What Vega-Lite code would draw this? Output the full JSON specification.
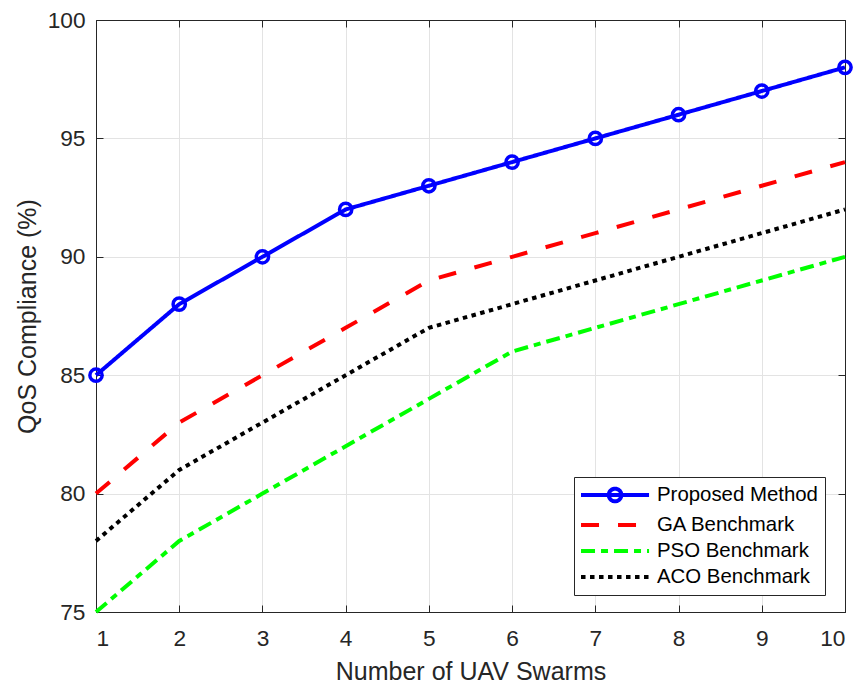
{
  "$schema": "https://vega.github.io/schema/vega-lite/v6.json",
  "width": 749,
  "height": 592,
  "autosize": {"type": "none"},
  "padding": {"left": 96, "top": 20, "right": 14, "bottom": 70},
  "background": "white",
  "config": {
    "font": "Liberation Sans",
    "view": {"stroke": "#262626", "strokeWidth": 1},
    "axis": {
      "labelFont": "Liberation Sans",
      "titleFont": "Liberation Sans",
      "labelColor": "#262626",
      "titleColor": "#262626",
      "titleFontWeight": "normal",
      "domainColor": "#262626",
      "tickColor": "#262626",
      "gridColor": "#e3e3e3",
      "gridOpacity": 1
    }
  },
  "resolve": {"axis": {"x": "independent", "y": "independent"}},
  "data": {
    "values": [
      {"x": 1, "y": 85, "m": "Proposed Method"},
      {"x": 2, "y": 88, "m": "Proposed Method"},
      {"x": 3, "y": 90, "m": "Proposed Method"},
      {"x": 4, "y": 92, "m": "Proposed Method"},
      {"x": 5, "y": 93, "m": "Proposed Method"},
      {"x": 6, "y": 94, "m": "Proposed Method"},
      {"x": 7, "y": 95, "m": "Proposed Method"},
      {"x": 8, "y": 96, "m": "Proposed Method"},
      {"x": 9, "y": 97, "m": "Proposed Method"},
      {"x": 10, "y": 98, "m": "Proposed Method"},
      {"x": 1, "y": 80, "m": "GA Benchmark"},
      {"x": 2, "y": 83, "m": "GA Benchmark"},
      {"x": 3, "y": 85, "m": "GA Benchmark"},
      {"x": 4, "y": 87, "m": "GA Benchmark"},
      {"x": 5, "y": 89, "m": "GA Benchmark"},
      {"x": 6, "y": 90, "m": "GA Benchmark"},
      {"x": 7, "y": 91, "m": "GA Benchmark"},
      {"x": 8, "y": 92, "m": "GA Benchmark"},
      {"x": 9, "y": 93, "m": "GA Benchmark"},
      {"x": 10, "y": 94, "m": "GA Benchmark"},
      {"x": 1, "y": 75, "m": "PSO Benchmark"},
      {"x": 2, "y": 78, "m": "PSO Benchmark"},
      {"x": 3, "y": 80, "m": "PSO Benchmark"},
      {"x": 4, "y": 82, "m": "PSO Benchmark"},
      {"x": 5, "y": 84, "m": "PSO Benchmark"},
      {"x": 6, "y": 86, "m": "PSO Benchmark"},
      {"x": 7, "y": 87, "m": "PSO Benchmark"},
      {"x": 8, "y": 88, "m": "PSO Benchmark"},
      {"x": 9, "y": 89, "m": "PSO Benchmark"},
      {"x": 10, "y": 90, "m": "PSO Benchmark"},
      {"x": 1, "y": 78, "m": "ACO Benchmark"},
      {"x": 2, "y": 81, "m": "ACO Benchmark"},
      {"x": 3, "y": 83, "m": "ACO Benchmark"},
      {"x": 4, "y": 85, "m": "ACO Benchmark"},
      {"x": 5, "y": 87, "m": "ACO Benchmark"},
      {"x": 6, "y": 88, "m": "ACO Benchmark"},
      {"x": 7, "y": 89, "m": "ACO Benchmark"},
      {"x": 8, "y": 90, "m": "ACO Benchmark"},
      {"x": 9, "y": 91, "m": "ACO Benchmark"},
      {"x": 10, "y": 92, "m": "ACO Benchmark"}
    ]
  },
  "layer": [
    {
      "mark": {"type": "line", "strokeWidth": 4, "clip": false},
      "encoding": {
        "x": {
          "field": "x", "type": "quantitative",
          "scale": {"domain": [1, 10], "nice": false, "zero": false},
          "axis": {"title": "Number of UAV Swarms", "values": [1,2,3,4,5,6,7,8,9,10], "format": "d", "tickSize": -7, "labelPadding": 22, "titlePadding": 10, "labelFontSize": 22.7, "titleFontSize": 25}
        },
        "y": {
          "field": "y", "type": "quantitative",
          "scale": {"domain": [75, 100], "nice": false, "zero": false},
          "axis": {"title": "QoS Compliance (%)", "values": [75,80,85,90,95,100], "tickSize": -7, "labelPadding": 18, "titlePadding": 7, "labelFontSize": 22.7, "titleFontSize": 25}
        },
        "color": {
          "field": "m", "type": "nominal",
          "scale": {
            "domain": ["Proposed Method", "GA Benchmark", "PSO Benchmark", "ACO Benchmark"],
            "range": ["#0000ff", "#ff0000", "#00ff00", "#000000"]
          },
          "legend": {
            "title": null,
            "orient": "none",
            "legendX": 478,
            "legendY": 457,
            "symbolType": "stroke",
            "symbolSize": 324,
            "symbolStrokeWidth": 4,
            "labelFontSize": 20.4,
            "labelFont": "Liberation Sans",
            "labelColor": "#000000",
            "labelOffset": 54,
            "fillColor": "white",
            "strokeColor": "#262626",
            "padding": 7,
            "rowPadding": 4,
            "labelLimit": 300,
            "encode": {
              "symbols": {
                "update": {
                  "shape": {"signal": "datum.value === 'Proposed Method' ? 'M-1.22,0H6.34M1.86,0A0.7,0.7,0,1,1,3.26,0A0.7,0.7,0,1,1,1.86,0' : 'M-1.22,0H6.34'"}
                }
              }
            }
          }
        },
        "strokeDash": {
          "field": "m", "type": "nominal",
          "scale": {
            "domain": ["Proposed Method", "GA Benchmark", "PSO Benchmark", "ACO Benchmark"],
            "range": [[1, 0], [18, 19], [14, 6, 7, 6], [4.5, 4.5]]
          }
        }
      }
    },
    {
      "transform": [{"filter": "datum.m === 'Proposed Method'"}],
      "mark": {"type": "point", "shape": "circle", "filled": false, "size": 150, "strokeWidth": 3.5, "color": "#0000ff", "opacity": 1, "clip": false},
      "encoding": {
        "x": {"field": "x", "type": "quantitative", "axis": {"orient": "top", "labels": false, "title": null, "grid": false, "values": [1,2,3,4,5,6,7,8,9,10], "tickSize": -7}},
        "y": {"field": "y", "type": "quantitative", "axis": {"orient": "right", "labels": false, "title": null, "grid": false, "values": [75,80,85,90,95,100], "tickSize": -7}}
      }
    }
  ]
}
